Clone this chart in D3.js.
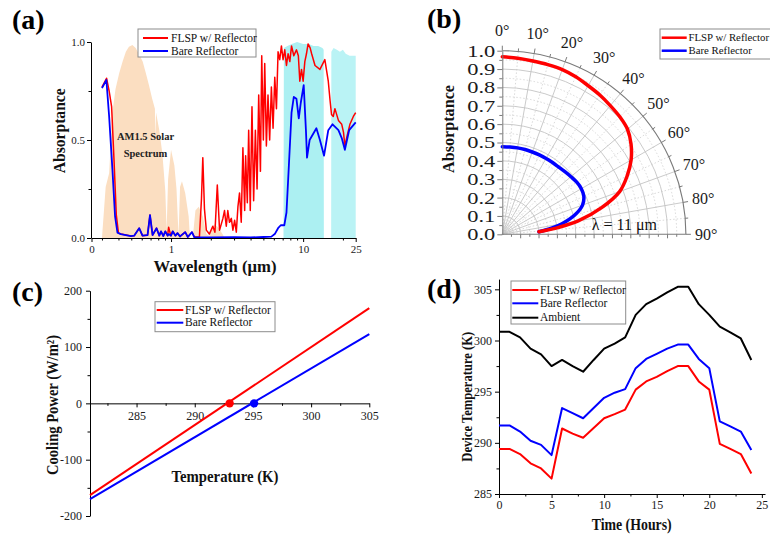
<!DOCTYPE html>
<html><head><meta charset="utf-8">
<script src="https://cdn.jsdelivr.net/npm/d3@7"></script>
<style>body{margin:0;background:#fff}svg{display:block}</style>
</head><body>
<svg id="chart" width="770" height="539"></svg>
<script>
// ================= DATA =================
const seriesNames = ["FLSP w/ Reflector", "Bare Reflector", "Ambient"];
const seriesColors = ["#ff0000", "#0000ff", "#000000"];

// (a) spectra
const solarWl  = [0.30,0.32,0.34,0.36,0.38,0.405,0.43,0.455,0.48,0.51,0.54,0.57,0.61,0.645,0.68,0.72,0.755,0.762,0.77,0.815,0.86,0.905,0.926,0.95,1.0,1.06,1.1,1.14,1.17,1.21,1.28,1.36,1.39,1.46,1.53,1.62,1.74,1.85,1.95,2.05,2.15,2.3,2.45,2.55];
const solarVal = [0,0.26,0.33,0.64,0.76,0.84,0.90,0.95,0.976,0.985,0.97,0.94,0.90,0.84,0.78,0.71,0.66,0.50,0.64,0.55,0.43,0.24,0.04,0.30,0.45,0.37,0.25,0.01,0.26,0.29,0.23,0.11,0,0,0.14,0.16,0.11,0.02,0.01,0.06,0.07,0.05,0.02,0];
const window1Wl  = [7.1,7.15,7.6,8.2,9.0,10,11,12,13,14.0,14.3,14.35];
const window1Val = [0,0.97,0.98,0.99,1.0,0.99,0.99,0.98,0.98,0.97,0.96,0];
const window2Wl  = [16.3,16.35,17,18,19,20,21,22.5,24,25];
const window2Val = [0,0.95,0.97,0.96,0.95,0.96,0.94,0.93,0.93,0.93];

const flspWl  = [0.30,0.325,0.34,0.355,0.37,0.385,0.40,0.417,0.455,0.497,0.526,0.574,0.608,0.664,0.693,0.725,0.777,0.815,0.84,0.874,0.905,0.942,0.959,0.98,1.0,1.03,1.08,1.12,1.17,1.28,1.34,1.44,1.50,1.64,1.70,1.74,1.79,1.85,1.95,2.07,2.15,2.24,2.33,2.47,2.54,2.62,2.69,2.77,2.86,2.94,3.03,3.12,3.21,3.30,3.40,3.50,3.61,3.67,3.78,3.87,3.98,4.10,4.22,4.35,4.48,4.61,4.75,4.86,5.00,5.12,5.27,5.42,5.58,5.75,5.92,6.10,6.28,6.46,6.65,6.85,7.05,7.26,7.48,7.69,7.93,8.17,8.5,8.9,9.2,9.44,9.72,10.0,10.3,10.6,10.9,11.3,11.6,12.3,13.4,14.6,15.5,16.0,16.4,16.9,17.4,18.5,19.6,20.2,20.7,21.5,22.6,24.0,25];
const flspAbs = [0.77,0.815,0.75,0.67,0.40,0.12,0.025,0.02,0.015,0.01,0.012,0.05,0.012,0.015,0.117,0.015,0.05,0.012,0.034,0.01,0.034,0.012,0.055,0.03,0.012,0.034,0.012,0.025,0.008,0.03,0.005,0.03,0.005,0.005,0.2,0.41,0.15,0.04,0.02,0.06,0.03,0.27,0.04,0.10,0.14,0.06,0.14,0.08,0.10,0.04,0.09,0.03,0.16,0.23,0.08,0.46,0.14,0.42,0.18,0.55,0.14,0.67,0.19,0.55,0.25,0.73,0.34,0.93,0.50,0.89,0.47,0.73,0.50,0.77,0.56,0.82,0.66,0.95,0.91,0.98,0.91,0.96,0.88,0.94,0.90,0.98,0.93,0.96,0.93,0.80,0.86,0.80,0.90,0.94,0.99,0.97,0.94,0.88,0.86,0.91,0.80,0.70,0.63,0.62,0.66,0.60,0.58,0.54,0.47,0.52,0.58,0.62,0.64];
const bareWl  = [0.30,0.324,0.34,0.36,0.377,0.393,0.417,0.455,0.497,0.526,0.574,0.608,0.664,0.693,0.725,0.777,0.815,0.84,0.874,0.905,0.942,0.959,1.0,1.03,1.08,1.12,1.17,1.28,1.34,1.44,1.50,2.0,3.0,4.0,5.0,5.75,6.1,6.46,6.77,7.2,7.48,7.8,8.17,8.5,8.9,9.27,9.6,10.1,10.5,10.7,11.2,12.6,13.4,14.4,15.5,16.7,18.5,19.6,20.7,22.3,25];
const bareAbs = [0.765,0.806,0.62,0.35,0.11,0.027,0.02,0.015,0.01,0.012,0.05,0.012,0.015,0.117,0.015,0.05,0.012,0.034,0.01,0.034,0.012,0.02,0.012,0.034,0.012,0.025,0.008,0.03,0.005,0.03,0.004,0.003,0.004,0.003,0.005,0.007,0.02,0.05,0.065,0.065,0.13,0.37,0.64,0.72,0.71,0.61,0.69,0.78,0.55,0.41,0.50,0.56,0.50,0.42,0.55,0.58,0.55,0.51,0.45,0.55,0.59];
const aXTicks = [0.25, 1, 10, 25];
const aXTickLabels = ["0", "1", "10", "25"];
const aXMinor = [0.3,0.4,0.5,0.6,0.7,0.8,0.9,2,3,4,5,6,7,8,9,20];
const aYTicks = [0, 0.5, 1.0];
const aYMinor = [0.25, 0.75];

// (b) polar absorptance at 11 um
const polarAngle = [0,5,10,15,20,25,30,35,40,45,50,55,60,65,70,75,80,83,86];
const polarFlsp  = [0.967,0.962,0.958,0.957,0.955,0.947,0.935,0.926,0.915,0.905,0.89,0.856,0.81,0.75,0.68,0.56,0.42,0.31,0.2];
const polarBare  = [0.477,0.477,0.478,0.478,0.477,0.477,0.477,0.477,0.478,0.482,0.488,0.495,0.497,0.49,0.465,0.41,0.33,0.27,0.2];
const bRadialTicks = [0,0.1,0.2,0.3,0.4,0.5,0.6,0.7,0.8,0.9,1.0];
const bAngleTicks = [0,10,20,30,40,50,60,70,80,90];

// (c) cooling power
const tempK = [281, 305];
const flspPower = [-163, 169];
const barePower = [-170, 123];
const eqTemp = [293.0, 295.1];
const cXTicks = [285,290,295,300,305];
const cXMinor = [282.5,287.5,292.5,297.5,302.5];
const cYTicks = [-200,-100,0,100,200];
const cYMinor = [-150,-50,50,150];

// (d) device temperature
const hours = [0,1,2,3,4,5,6,7,8,9,10,11,12,13,14,15,16,17,18,19,20,21,22,23,24];
const flspTemp = [289.4,289.4,288.9,288.0,287.5,286.5,291.4,290.9,290.5,291.45,292.4,292.8,293.25,295.2,296.0,296.45,297.0,297.5,297.5,296.0,295.2,289.9,289.4,288.9,287.0];
const bareTemp = [291.7,291.7,291.1,290.2,289.8,288.8,293.4,292.9,292.4,293.4,294.4,294.9,295.25,297.3,298.2,298.7,299.2,299.6,299.6,298.2,297.3,292.1,291.6,291.1,289.3];
const ambientTemp = [300.85,300.85,300.3,299.2,298.65,297.5,298.1,297.5,296.95,298.1,299.2,299.7,300.3,302.5,303.55,304.1,304.7,305.25,305.25,303.55,302.5,301.35,300.8,300.2,298.1];
const dXTicks = [0,5,10,15,20,25];
const dXMinor = [2.5,7.5,12.5,17.5,22.5];
const dYTicks = [285,290,295,300,305];
const dYMinor = [287.5,292.5,297.5,302.5];

// ================= DRAW =================
const FONT = '"Liberation Serif","Times New Roman",serif';
const svg = d3.select("#chart");
svg.append("rect").attr("width",770).attr("height",539).attr("fill","#fff");

function axis(g, gen, fs, color) {
  g.call(gen);
  g.attr("font-family", FONT).attr("font-size", fs);
  g.select(".domain").attr("stroke", color || "#000").attr("stroke-width", 1);
  g.selectAll(".tick line").attr("stroke", color || "#000");
  g.selectAll(".tick text").attr("fill", "#1a1a1a");
  return g;
}
function minor(g, gen, color) {
  g.call(gen);
  g.select(".domain").remove();
  g.selectAll(".tick line").attr("stroke", color || "#000");
  g.selectAll(".tick text").remove();
}
function title(x, y, txt, fs, len, rot) {
  const t = svg.append("text").attr("font-family", FONT).attr("font-weight", "bold")
    .attr("font-size", fs).attr("text-anchor", "middle").attr("fill", "#111").text(txt);
  if (rot) t.attr("transform", `translate(${x},${y}) rotate(-90)`).attr("dominant-baseline", "central");
  else t.attr("x", x).attr("y", y);
  if (len) t.attr("textLength", len).attr("lengthAdjust", "spacingAndGlyphs");
  return t;
}
function panelLabel(x, y, txt) {
  svg.append("text").attr("x", x).attr("y", y).attr("font-family", FONT).attr("font-weight", "bold")
    .attr("font-size", 28).attr("fill", "#000").text(txt);
}
function legend(box, rows, x0, x1, tx, fs, lw, names, colors) {
  svg.append("rect").attr("x", box[0]).attr("y", box[1]).attr("width", box[2]).attr("height", box[3])
    .attr("fill", "#fff").attr("stroke", "#8c8c8c").attr("stroke-width", 1);
  rows.forEach((ry, i) => {
    svg.append("line").attr("x1", x0).attr("x2", x1).attr("y1", ry).attr("y2", ry)
      .attr("stroke", colors[i]).attr("stroke-width", lw);
    svg.append("text").attr("x", tx).attr("y", ry).attr("dy", "0.33em").attr("font-family", FONT)
      .attr("font-size", fs).attr("fill", "#111").text(names[i]);
  });
}

// ---------- (a) ----------
{
  const x = d3.scaleLog().domain([0.25, 25]).range([91.5, 355.7]);
  const y = d3.scaleLinear().domain([0, 1]).range([238, 42]);
  const g = svg.append("g");
  const area = d3.area().x(d => x(d[0])).y0(y(0)).y1(d => y(d[1]));
  g.append("path").datum(d3.zip(solarWl, solarVal)).attr("d", area).attr("fill", "rgb(251,222,193)");
  g.append("path").datum(d3.zip(window1Wl, window1Val)).attr("d", area).attr("fill", "rgb(172,240,242)");
  g.append("path").datum(d3.zip(window2Wl, window2Val)).attr("d", area).attr("fill", "rgb(186,243,245)");
  const line = d3.line().x(d => x(d[0])).y(d => y(d[1]));
  g.append("path").datum(d3.zip(flspWl, flspAbs)).attr("d", line).attr("fill", "none")
    .attr("stroke", seriesColors[0]).attr("stroke-width", 1.5).attr("stroke-linejoin", "round");
  g.append("path").datum(d3.zip(bareWl, bareAbs)).attr("d", line).attr("fill", "none")
    .attr("stroke", seriesColors[1]).attr("stroke-width", 1.8).attr("stroke-linejoin", "round");
  axis(svg.append("g").attr("transform", `translate(0,${y(0)})`),
    d3.axisBottom(x).tickValues(aXTicks).tickFormat((d, i) => aXTickLabels[i]).tickSize(4).tickPadding(3).tickSizeOuter(0), 11);
  minor(svg.append("g").attr("transform", `translate(0,${y(0)})`), d3.axisBottom(x).tickValues(aXMinor).tickSize(2.5));
  axis(svg.append("g").attr("transform", `translate(91,0)`),
    d3.axisLeft(y).tickValues(aYTicks).tickFormat(d3.format(".1f")).tickSize(4).tickPadding(2).tickSizeOuter(0), 11);
  minor(svg.append("g").attr("transform", `translate(91,0)`), d3.axisLeft(y).tickValues(aYMinor).tickSize(2.5));
  svg.append("text").attr("x", 145.5).attr("y", 140).attr("font-family", FONT).attr("font-weight", "bold")
    .attr("font-size", 10.5).attr("text-anchor", "middle").attr("fill", "#222").text("AM1.5 Solar");
  svg.append("text").attr("x", 145.5).attr("y", 157).attr("font-family", FONT).attr("font-weight", "bold")
    .attr("font-size", 10.5).attr("text-anchor", "middle").attr("fill", "#222").text("Spectrum");
  legend([138, 29, 118, 28], [38, 51], 143, 168, 171, 11.5, 2, seriesNames, seriesColors);
  title(59, 130.8, "Absorptance", 16, 85, true);
  title(215, 272, "Wavelength (\u03bcm)", 17, 123, false);
  panelLabel(12, 29, "(a)");
}

// ---------- (b) ----------
{
  const cx = 502.3, cy = 234.3;
  const r = d3.scaleLinear().domain([0, 1]).range([0, 183.6]);
  const g = svg.append("g").attr("transform", `translate(${cx},${cy})`);
  const rad = a => a * Math.PI / 180;
  const arcPath = rr => { const p = d3.path(); p.moveTo(0, -rr); p.arc(0, 0, rr, -Math.PI / 2, 0); return p.toString(); };
  for (let k = 1; k < 20; k += 2) {
    g.append("path").attr("d", arcPath(r(k * 0.05))).attr("fill", "none")
      .attr("stroke", "#cfcfcf").attr("stroke-width", 0.8).attr("stroke-dasharray", "1.5,2");
  }
  for (let a = 5; a < 90; a += 10) {
    g.append("line").attr("x1", 0).attr("y1", 0).attr("x2", r(1) * Math.sin(rad(a))).attr("y2", -r(1) * Math.cos(rad(a)))
      .attr("stroke", "#cfcfcf").attr("stroke-width", 0.8).attr("stroke-dasharray", "1.5,2");
  }
  for (let k = 1; k < 10; k++) {
    g.append("path").attr("d", arcPath(r(k * 0.1))).attr("fill", "none").attr("stroke", "#c4c4c4").attr("stroke-width", 0.9);
  }
  for (let a = 10; a < 90; a += 10) {
    g.append("line").attr("x1", 0).attr("y1", 0).attr("x2", r(1) * Math.sin(rad(a))).attr("y2", -r(1) * Math.cos(rad(a)))
      .attr("stroke", "#c4c4c4").attr("stroke-width", 0.9);
  }
  g.append("path").attr("d", arcPath(r(1))).attr("fill", "none").attr("stroke", "#7a7a7a").attr("stroke-width", 1.1);
  for (let a = 0; a <= 90; a += 5) {
    const len = a % 10 === 0 ? 5 : 3;
    g.append("line").attr("x1", r(1) * Math.sin(rad(a))).attr("y1", -r(1) * Math.cos(rad(a)))
      .attr("x2", (r(1) + len) * Math.sin(rad(a))).attr("y2", -(r(1) + len) * Math.cos(rad(a)))
      .attr("stroke", "#7a7a7a");
  }
  g.append("line").attr("x1", 0).attr("y1", 0).attr("x2", r(1)).attr("y2", 0).attr("stroke", "#7a7a7a").attr("stroke-width", 1.1);
  for (let k = 1; k < 20; k++) {
    g.append("line").attr("x1", r(k * 0.05)).attr("x2", r(k * 0.05)).attr("y1", 0).attr("y2", k % 2 ? 2.5 : 4).attr("stroke", "#7a7a7a");
  }
  const ry = d3.scaleLinear().domain([0, 1]).range([cy, cy - 183.6]);
  const ga = svg.append("g").attr("transform", `translate(${cx},0)`);
  axis(ga, d3.axisLeft(ry).tickValues(bRadialTicks).tickFormat(d3.format(".1f")).tickSize(5).tickPadding(2).tickSizeOuter(0), 17, "#7a7a7a");
  ga.selectAll(".tick text").attr("textLength", 28).attr("lengthAdjust", "spacingAndGlyphs");
  minor(svg.append("g").attr("transform", `translate(${cx},0)`),
    d3.axisLeft(ry).tickValues(bRadialTicks.slice(0, 10).map(v => v + 0.05)).tickSize(3), "#7a7a7a");
  bAngleTicks.forEach(a => {
    svg.append("text").attr("x", cx + 204 * Math.sin(rad(a))).attr("y", cy - 204 * Math.cos(rad(a)))
      .attr("dy", "0.35em").attr("text-anchor", "middle").attr("font-family", FONT).attr("font-size", 16)
      .attr("fill", "#1a1a1a").text(a + "\u00b0");
  });
  const radial = d3.lineRadial().angle(d => rad(d[0])).radius(d => r(d[1])).curve(d3.curveCatmullRom);
  g.append("path").datum(d3.zip(polarAngle, polarBare)).attr("d", radial).attr("fill", "none")
    .attr("stroke", seriesColors[1]).attr("stroke-width", 3.5).attr("stroke-linecap", "round");
  g.append("path").datum(d3.zip(polarAngle, polarFlsp)).attr("d", radial).attr("fill", "none")
    .attr("stroke", seriesColors[0]).attr("stroke-width", 3.5).attr("stroke-linecap", "round");
  svg.append("text").attr("x", 591.7).attr("y", 230).attr("font-family", FONT).attr("font-size", 16)
    .attr("fill", "#111").text("\u03bb = 11 \u03bcm");
  legend([660, 29, 125, 30], [37.7, 50.7], 661.7, 686.7, 688.5, 10.8, 2.5, seriesNames, seriesColors);
  title(448, 129, "Absorptance", 16, 88, true);
  panelLabel(427, 28, "(b)");
}

// ---------- (c) ----------
{
  const x = d3.scaleLinear().domain([281, 305]).range([90, 369.3]);
  const y = d3.scaleLinear().domain([-200, 200]).range([516, 290.7]);
  const line = d3.line().x(d => x(d[0])).y(d => y(d[1]));
  axis(svg.append("g").attr("transform", `translate(90,0)`),
    d3.axisLeft(y).tickValues(cYTicks).tickFormat(d => String(d)).tickSize(4).tickPadding(4).tickSizeOuter(0), 12);
  minor(svg.append("g").attr("transform", `translate(90,0)`), d3.axisLeft(y).tickValues(cYMinor).tickSize(2.5));
  axis(svg.append("g").attr("transform", `translate(0,${y(0)})`),
    d3.axisBottom(x).tickValues(cXTicks).tickSize(4).tickPadding(4).tickSizeOuter(0), 12);
  minor(svg.append("g").attr("transform", `translate(0,${y(0)})`), d3.axisBottom(x).tickValues(cXMinor).tickSize(2.5));
  svg.append("path").datum(d3.zip(tempK, flspPower)).attr("d", line).attr("fill", "none")
    .attr("stroke", seriesColors[0]).attr("stroke-width", 2);
  svg.append("path").datum(d3.zip(tempK, barePower)).attr("d", line).attr("fill", "none")
    .attr("stroke", seriesColors[1]).attr("stroke-width", 2);
  eqTemp.forEach((t, i) => {
    svg.append("circle").attr("cx", x(t)).attr("cy", y(0)).attr("r", 4.2).attr("fill", seriesColors[i]);
  });
  legend([155, 301.7, 120, 30], [310, 322.7], 156.7, 183.3, 185, 11.5, 2, seriesNames, seriesColors);
  title(52.5, 405, "Cooling Power (W/m\u00b2)", 16, 140, true);
  title(225, 481.7, "Temperature (K)", 17, 107, false);
  panelLabel(12, 301, "(c)");
}

// ---------- (d) ----------
{
  const x = d3.scaleLinear().domain([0, 25.3]).range([499, 765]);
  const y = d3.scaleLinear().domain([285, 306]).range([494, 279.1]);
  axis(svg.append("g").attr("transform", `translate(499,0)`),
    d3.axisLeft(y).tickValues(dYTicks).tickSize(4).tickPadding(3).tickSizeOuter(0), 12);
  minor(svg.append("g").attr("transform", `translate(499,0)`), d3.axisLeft(y).tickValues(dYMinor).tickSize(2.5));
  axis(svg.append("g").attr("transform", `translate(0,494)`),
    d3.axisBottom(x).tickValues(dXTicks).tickSize(4).tickPadding(2).tickSizeOuter(0), 12);
  minor(svg.append("g").attr("transform", `translate(0,494)`), d3.axisBottom(x).tickValues(dXMinor).tickSize(2.5));
  const line = d3.line().x(d => x(d[0])).y(d => y(d[1]));
  [[flspTemp, 0], [bareTemp, 1], [ambientTemp, 2]].forEach(([vals, i]) => {
    svg.append("path").datum(d3.zip(hours, vals)).attr("d", line).attr("fill", "none")
      .attr("stroke", seriesColors[i]).attr("stroke-width", 2).attr("stroke-linejoin", "round");
  });
  legend([511, 281, 114.7, 43], [290, 303.3, 317.7], 512.3, 538.3, 540, 11.5, 2, seriesNames, seriesColors);
  title(466.7, 396.7, "Device Temperature (K)", 15, 130, true);
  title(631.7, 530, "Time (Hours)", 17, 80, false);
  panelLabel(427, 298, "(d)");
}
</script>
</body></html>
